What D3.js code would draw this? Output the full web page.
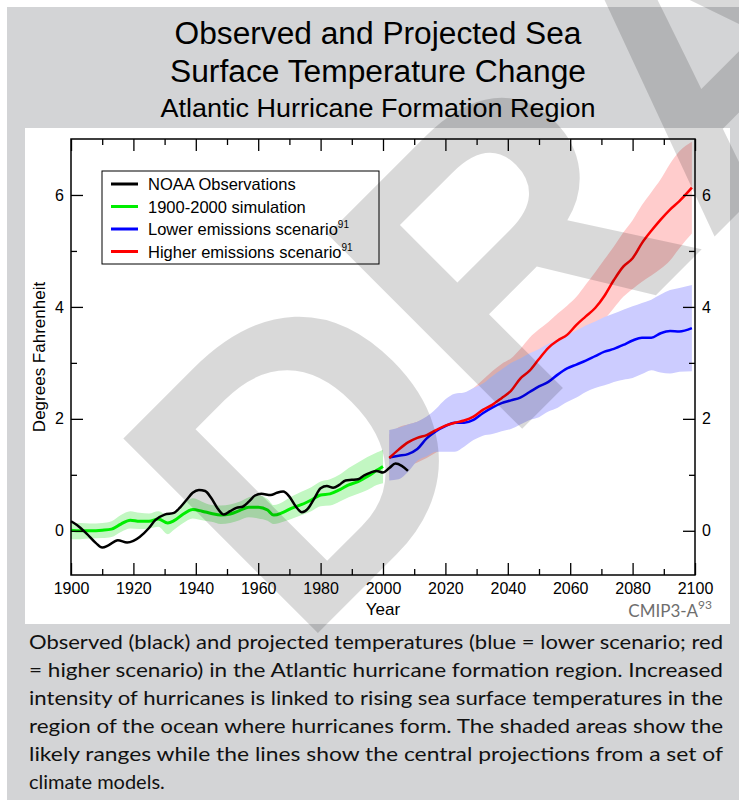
<!DOCTYPE html>
<html>
<head>
<meta charset="utf-8">
<script src="https://cdn.jsdelivr.net/npm/d3@7/dist/d3.min.js"></script>
<style>
  html, body { margin: 0; padding: 0; background: #ffffff; }
  svg { display: block; }
</style>
</head>
<body>
<svg id="chart" width="739" height="800"></svg>
<script>
// ---- Observed (NOAA) sea surface temperature change, °F ----
const obsYears = [1900,1902,1905,1908,1910,1912,1915,1918,1920,1922,1925,1927,1930,1933,1935,1937,1939,1941,1943,1945,1947,1949,1951,1953,1955,1957,1959,1961,1964,1966,1968,1970,1972,1974,1976,1978,1980,1982,1984,1986,1988,1990,1992,1994,1996,1998,2000,2002,2004,2006,2008];
const obsValues = [0.17,0.10,-0.05,-0.22,-0.30,-0.26,-0.17,-0.21,-0.18,-0.11,0.05,0.19,0.29,0.32,0.42,0.55,0.68,0.73,0.71,0.58,0.40,0.29,0.35,0.41,0.43,0.52,0.63,0.66,0.64,0.68,0.70,0.61,0.44,0.33,0.40,0.58,0.76,0.80,0.77,0.82,0.90,0.91,0.92,0.99,1.04,1.07,1.04,1.12,1.20,1.16,1.07];

// ---- 1900-2000 model simulation: central line and likely range ----
const simYears = [1900,1903,1906,1910,1913,1916,1919,1922,1925,1928,1931,1933,1936,1939,1942,1945,1948,1951,1954,1957,1960,1963,1965,1968,1971,1974,1977,1980,1983,1986,1989,1992,1995,1998,2000];
const simValues = [0.01,0.00,0.00,0.01,0.03,0.12,0.19,0.17,0.17,0.21,0.14,0.18,0.30,0.38,0.35,0.31,0.28,0.30,0.36,0.42,0.42,0.37,0.28,0.33,0.41,0.47,0.55,0.64,0.66,0.73,0.82,0.88,0.97,1.08,1.15];
const simHigh = [0.14,0.14,0.13,0.14,0.17,0.28,0.35,0.32,0.31,0.35,0.28,0.33,0.47,0.58,0.52,0.46,0.45,0.47,0.52,0.60,0.63,0.57,0.46,0.52,0.62,0.70,0.78,0.88,0.92,1.00,1.12,1.22,1.32,1.40,1.45];
const simLow = [-0.15,-0.15,-0.14,-0.13,-0.11,-0.02,0.04,0.03,0.04,0.07,-0.06,0.02,0.14,0.22,0.19,0.16,0.12,0.14,0.19,0.24,0.22,0.18,0.12,0.16,0.22,0.28,0.35,0.44,0.45,0.52,0.60,0.66,0.73,0.82,0.85];

// ---- 21st-century projections ----
const projYears = [2002,2005,2008,2011,2014,2017,2020,2023,2026,2029,2032,2035,2038,2041,2044,2047,2050,2053,2056,2059,2062,2065,2068,2071,2074,2077,2080,2083,2086,2089,2092,2095,2099];
const lowerValues = [1.31,1.34,1.37,1.46,1.65,1.78,1.87,1.93,1.93,1.98,2.10,2.20,2.28,2.33,2.38,2.48,2.58,2.66,2.79,2.90,2.97,3.04,3.12,3.20,3.25,3.32,3.40,3.45,3.45,3.53,3.57,3.56,3.62];
const lowerHigh = [1.80,1.84,1.90,1.95,2.04,2.18,2.35,2.45,2.47,2.55,2.63,2.76,2.88,3.00,3.08,3.17,3.25,3.34,3.42,3.50,3.58,3.67,3.74,3.82,3.88,3.95,4.01,4.07,4.13,4.22,4.30,4.34,4.39];
const lowerLow = [0.90,0.92,1.05,1.25,1.33,1.41,1.41,1.41,1.50,1.62,1.70,1.73,1.78,1.82,1.90,1.98,2.03,2.13,2.20,2.30,2.38,2.48,2.55,2.60,2.66,2.70,2.73,2.80,2.87,2.83,2.81,2.84,2.85];
const higherValues = [1.30,1.45,1.58,1.66,1.71,1.80,1.88,1.93,1.97,2.04,2.16,2.25,2.37,2.50,2.72,2.86,3.07,3.27,3.40,3.50,3.68,3.83,3.98,4.20,4.48,4.72,4.87,5.14,5.36,5.56,5.74,5.89,6.13];
const higherHigh = [1.72,1.85,1.90,1.95,2.02,2.10,2.20,2.30,2.42,2.55,2.70,2.85,2.98,3.08,3.25,3.45,3.60,3.73,3.88,4.02,4.18,4.40,4.62,4.85,5.08,5.33,5.55,5.82,6.05,6.28,6.56,6.78,6.95];
const higherLow = [0.95,1.05,1.15,1.22,1.30,1.40,1.50,1.58,1.68,1.78,1.88,1.98,2.10,2.25,2.40,2.55,2.70,2.85,2.98,3.12,3.25,3.40,3.60,3.78,3.98,4.18,4.32,4.45,4.56,4.68,4.83,5.05,5.31];

// ---- Axis ticks, legend and text ----
const xMajorTicks = [1900,1920,1940,1960,1980,2000,2020,2040,2060,2080,2100];
const xMinorTicks = [1910,1930,1950,1970,1990,2010,2030,2050,2070,2090];
const yMajorTicks = [0,2,4,6];
const yMinorTicks = [1,3,5];
const legendLabels = ["NOAA Observations","1900-2000 simulation","Lower emissions scenario","Higher emissions scenario"];
const legendNotes = ["","","91","91"];
const legendColors = ["#000000","#00ee00","#0000ff","#ff0000"];
const titleLines = ["Observed and Projected Sea","Surface Temperature Change","Atlantic Hurricane Formation Region"];
const captionLines = [
  "Observed (black) and projected temperatures (blue = lower scenario; red",
  "= higher scenario) in the Atlantic hurricane formation region. Increased",
  "intensity of hurricanes is linked to rising sea surface temperatures in the",
  "region of the ocean where hurricanes form. The shaded areas show the",
  "likely ranges while the lines show the central projections from a set of",
  "climate models."
];

const svg = d3.select("#chart");
const W = 739, H = 800;

// page panels
svg.append("rect").attr("x", 7).attr("y", 7).attr("width", W - 7).attr("height", H - 7).attr("fill", "#d3d4d6");
svg.append("rect").attr("x", 25).attr("y", 128).attr("width", 705).attr("height", 496).attr("fill", "#ffffff");

// plot frame
const plot = { left: 71, right: 695, top: 139, bottom: 575 };
const x = d3.scaleLinear().domain([1900, 2100]).range([plot.left, plot.right]);
const y = d3.scaleLinear().domain([-0.79, 7.0]).range([plot.bottom, plot.top]);

const g = svg.append("g");

function band(years, lo, hi, fill) {
  const pts = years.map((yr, i) => ({ yr, lo: lo[i], hi: hi[i] }));
  g.append("path")
    .datum(pts)
    .attr("fill", fill)
    .attr("d", d3.area().x(d => x(d.yr)).y0(d => y(d.lo)).y1(d => y(d.hi)).curve(d3.curveMonotoneX));
}
function line(years, vals, color, width) {
  const pts = years.map((yr, i) => ({ yr, v: vals[i] }));
  g.append("path")
    .datum(pts)
    .attr("fill", "none")
    .attr("stroke", color)
    .attr("stroke-width", width)
    .attr("stroke-linejoin", "round")
    .attr("stroke-linecap", "butt")
    .attr("d", d3.line().x(d => x(d.yr)).y(d => y(d.v)).curve(d3.curveMonotoneX));
}

band(simYears, simLow, simHigh, "#c2f7c2");
band(projYears, higherLow, higherHigh, "#ffcccc");
band(projYears, lowerLow, lowerHigh, "#ccccff");

// DRAFT stamp across the page
svg.append("text")
  .attr("transform", "translate(299,652) rotate(-45)")
  .attr("font-family", "'Liberation Sans', Arial, sans-serif")
  .attr("font-weight", "bold")
  .attr("font-size", 400)
  .attr("fill", "#000000")
  .attr("fill-opacity", 0.15)
  .text("DRAFT");

line(simYears, simValues, "#00ee00", 3);
line(obsYears, obsValues, "#000000", 2.5);
line(projYears, lowerValues, "#0000ff", 2.5);
line(projYears, higherValues, "#ff0000", 2.5);

// axes with inward ticks
const axisFont = "'Liberation Sans', Arial, sans-serif";
function styleAxis(sel) {
  sel.select(".domain").remove();
  sel.selectAll(".tick line").attr("stroke", "#000").attr("stroke-width", 1.3);
  sel.selectAll("text").attr("font-family", axisFont).attr("font-size", 16).attr("fill", "#000");
}
svg.append("g").attr("transform", `translate(0,${plot.bottom})`)
  .call(d3.axisBottom(x).tickValues(xMajorTicks).tickFormat(d3.format("d")).tickSize(-12).tickPadding(8)).call(styleAxis);
svg.append("g").attr("transform", `translate(0,${plot.bottom})`)
  .call(d3.axisBottom(x).tickValues(xMinorTicks).tickFormat("").tickSize(-6)).call(styleAxis);
svg.append("g").attr("transform", `translate(0,${plot.top})`)
  .call(d3.axisTop(x).tickValues(xMajorTicks).tickFormat("").tickSize(-12)).call(styleAxis);
svg.append("g").attr("transform", `translate(0,${plot.top})`)
  .call(d3.axisTop(x).tickValues(xMinorTicks).tickFormat("").tickSize(-6)).call(styleAxis);
svg.append("g").attr("transform", `translate(${plot.left},0)`)
  .call(d3.axisLeft(y).tickValues(yMajorTicks).tickFormat(d3.format("d")).tickSize(-12).tickPadding(7)).call(styleAxis);
svg.append("g").attr("transform", `translate(${plot.left},0)`)
  .call(d3.axisLeft(y).tickValues(yMinorTicks).tickFormat("").tickSize(-6)).call(styleAxis);
svg.append("g").attr("transform", `translate(${plot.right},0)`)
  .call(d3.axisRight(y).tickValues(yMajorTicks).tickFormat(d3.format("d")).tickSize(-12).tickPadding(7)).call(styleAxis);
svg.append("g").attr("transform", `translate(${plot.right},0)`)
  .call(d3.axisRight(y).tickValues(yMinorTicks).tickFormat("").tickSize(-6)).call(styleAxis);

svg.append("rect")
  .attr("x", plot.left).attr("y", plot.top)
  .attr("width", plot.right - plot.left).attr("height", plot.bottom - plot.top)
  .attr("fill", "none").attr("stroke", "#000").attr("stroke-width", 1.5);

// axis titles
svg.append("text").attr("x", (plot.left + plot.right) / 2).attr("y", 615)
  .attr("text-anchor", "middle").attr("font-family", axisFont).attr("font-size", 17).text("Year");
svg.append("text").attr("transform", `translate(45,${(plot.top + plot.bottom) / 2}) rotate(-90)`)
  .attr("text-anchor", "middle").attr("font-family", axisFont).attr("font-size", 17).text("Degrees Fahrenheit");

// source note
const src = svg.append("text").attr("x", 712).attr("y", 617).attr("text-anchor", "end")
  .attr("font-family", "Lato, 'Open Sans', sans-serif").attr("font-size", 17).attr("fill", "#6e6e6e");
src.append("tspan").text("CMIP3-A");
src.append("tspan").attr("dy", -8).attr("font-size", 12).text("93");

// legend
const leg = svg.append("g").attr("transform", "translate(102,171)");
leg.append("rect").attr("width", 277).attr("height", 93).attr("fill", "none").attr("stroke", "#000").attr("stroke-width", 1);
legendLabels.forEach((lab, i) => {
  const cy = 13 + i * 22.5;
  leg.append("line").attr("x1", 9).attr("x2", 36).attr("y1", cy).attr("y2", cy)
    .attr("stroke", legendColors[i]).attr("stroke-width", 3);
  const t = leg.append("text").attr("x", 46).attr("y", cy + 6)
    .attr("font-family", axisFont).attr("font-size", 16.5).attr("fill", "#000");
  t.append("tspan").text(lab);
  if (legendNotes[i]) t.append("tspan").attr("dy", -7).attr("font-size", 10).text(legendNotes[i]);
});

// titles
const titleSizes = [31, 31, 25];
const titleY = [44, 82, 117];
const titleWidths = [407, 416, 435];
titleLines.forEach((s, i) => {
  svg.append("text").attr("x", 378 - titleWidths[i] / 2).attr("y", titleY[i])
    .attr("font-family", axisFont).attr("font-size", titleSizes[i]).attr("fill", "#000")
    .attr("textLength", titleWidths[i]).attr("lengthAdjust", "spacingAndGlyphs")
    .text(s);
});

// caption, justified
captionLines.forEach((s, i) => {
  const t = svg.append("text").attr("x", 29).attr("y", 649 + i * 28)
    .attr("font-family", "Lato, 'Open Sans', sans-serif").attr("font-size", 20).attr("fill", "#111")
    .text(s);
  if (i < captionLines.length - 1) t.attr("textLength", 694).attr("lengthAdjust", "spacingAndGlyphs");
});
</script>
</body>
</html>
